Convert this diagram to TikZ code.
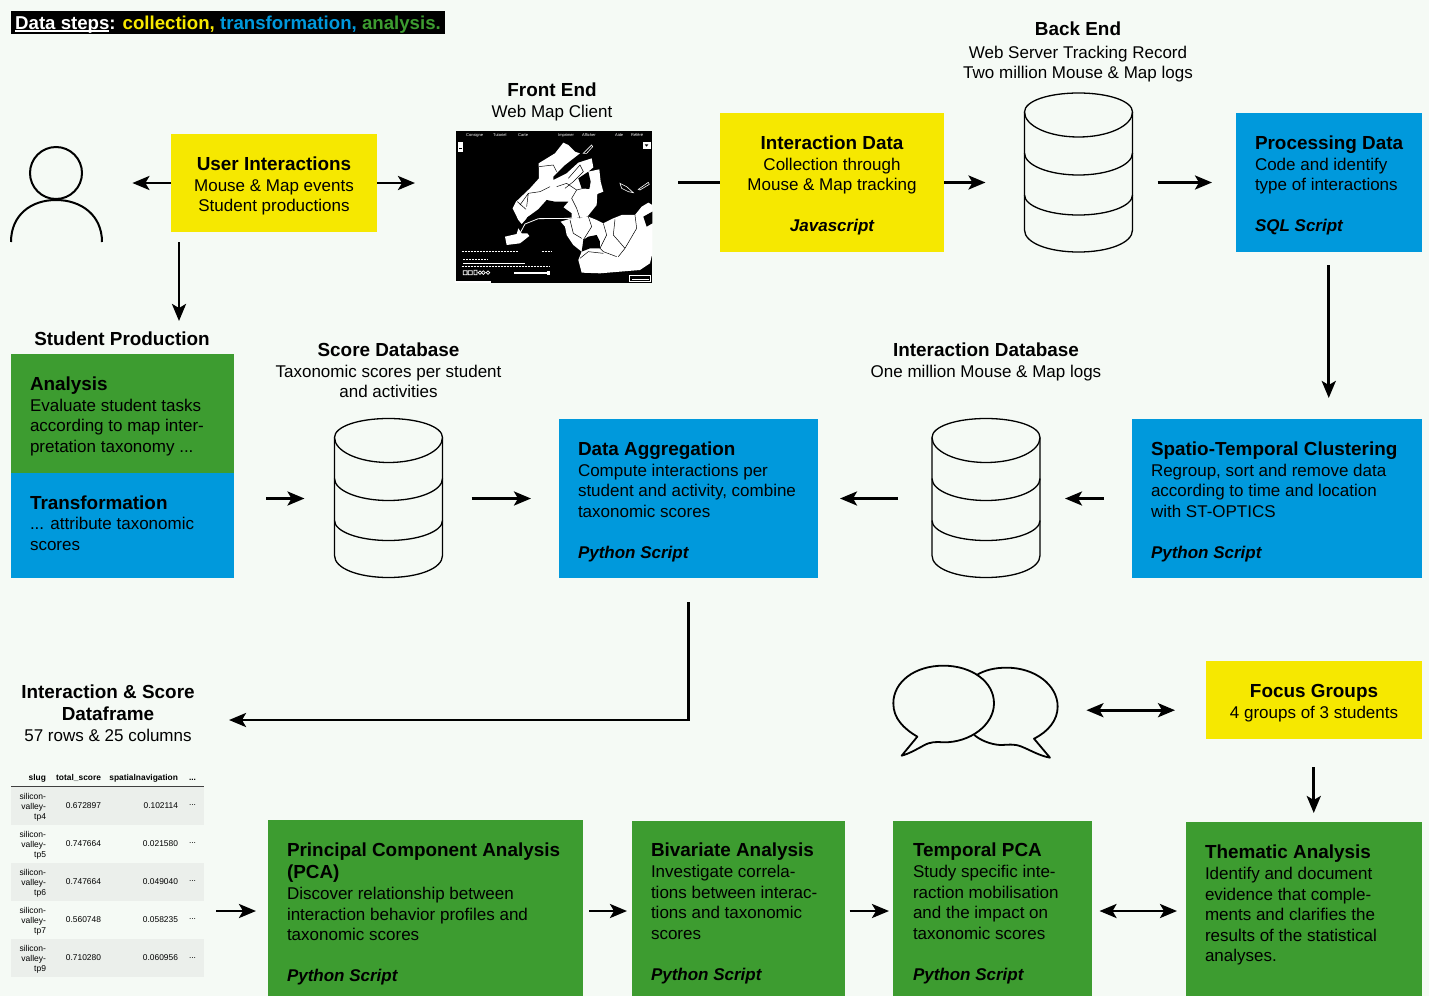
\documentclass[tikz,border=0pt]{standalone}
\usepackage{fontspec}
\setmainfont{Liberation Sans}
\usetikzlibrary{arrows.meta,calc}
\definecolor{bgc}{HTML}{F5FAF5}
\definecolor{yel}{HTML}{F6E800}
\definecolor{blu}{HTML}{0099DC}
\definecolor{gre}{HTML}{3D9C30}
\definecolor{stripe}{HTML}{EBEFEB}
\newcommand\hd[1]{{\fontsize{18.9}{20.5}\selectfont\bfseries\rule{0pt}{15pt}#1}}
\newcommand\scr[1]{{\bfseries\itshape #1}}
\newcommand\mkbox[6]{\node[boxn,fill=#6,minimum width=#4pt-#2pt,minimum height=#5pt-#3pt] (#1) at (#2,#3) {};}
\newcommand\dbshape[3]{%
  \node[dbn] (#1) at (#2,#3) {};
  \draw[dbl,fill=bgc] (#2-54,#3+19) .. controls (#2-54,#3+8) and (#2-30,#3) .. (#2,#3) .. controls (#2+30,#3) and (#2+54,#3+8) .. (#2+54,#3+19)
     -- (#2+54,#3+137) .. controls (#2+54,#3+150) and (#2+30,#3+159) .. (#2,#3+159) .. controls (#2-30,#3+159) and (#2-54,#3+150) .. (#2-54,#3+137) -- cycle;
  \foreach \dy/\dp in {19/25,60/22,102/20}{
  \draw[dbl] (#2-54,#3+\dy) .. controls (#2-54,#3+\dy+0.55*\dp) and (#2-30,#3+\dy+\dp) .. (#2,#3+\dy+\dp) .. controls (#2+30,#3+\dy+\dp) and (#2+54,#3+\dy+0.55*\dp) .. (#2+54,#3+\dy);}
}
\newcommand\trow[5]{%
  \node[tr,text width=36pt,align=right,font=\fontsize{8.5}{10}\selectfont] (r#1a) at (46,#2+1.5) {silicon-\\valley-\\#3};
  \node[tc] (r#1b) at (101,#2) {#4};
  \node[tc] (r#1c) at (178,#2) {#5};
  \node[tc] (r#1d) at (196,#2) {...};
}
\tikzset{
  x=1pt,y=-1pt,
  boxn/.style={anchor=north west,inner sep=0,outer sep=0,draw=none},
  dbn/.style={anchor=north,inner sep=0,outer sep=0,minimum width=108pt,minimum height=160pt,draw=none},
  dbl/.style={line width=1.3pt,draw=black},
  tl/.style={anchor=north west,inner sep=0,outer sep=0,align=left,font=\fontsize{17}{20.5}\selectfont},
  tcn/.style={anchor=north,inner sep=0,outer sep=0,align=center,font=\fontsize{17}{20.5}\selectfont},
  arr/.style={line width=2.8pt,-{Stealth[length=17pt,width=14pt,inset=4pt]}},
  arrb/.style={line width=2.8pt,{Stealth[length=17pt,width=14pt,inset=4pt]}-{Stealth[length=17pt,width=14pt,inset=4pt]}},
  tr/.style={anchor=east,inner sep=0,outer sep=0},
  tc/.style={anchor=east,inner sep=0,outer sep=0,font=\fontsize{8.4}{10}\selectfont},
  th/.style={anchor=base east,inner sep=0,outer sep=0,font=\fontsize{8.4}{10}\selectfont\bfseries},
  mtx/.style={inner sep=0,anchor=west,text=white,font=\fontsize{4}{4}\selectfont},
}
\begin{document}
\begin{tikzpicture}
\fill[bgc] (0,0) rectangle (1429,996);
\useasboundingbox (0,0) rectangle (1429,996);
% title
\mkbox{titlebar}{11}{11}{445}{34}{black}
\node[anchor=base west,inner sep=0,font=\fontsize{18.65}{20}\selectfont\bfseries] (title) at (15,29) {\textcolor{white}{Data steps:} \textcolor{yel}{collection,} \textcolor{blu}{transformation,} \textcolor{gre}{analysis.}};
\coordinate (ula) at (15,31);
\coordinate (ulb) at (109,31);
\draw[white,line width=1.2pt] (ula) -- (ulb);
% person
\node[inner sep=0,anchor=north west,minimum width=91pt,minimum height=95pt] (person) at (11,147) {};
\draw[line width=2pt] (56,173) circle[radius=26];
\draw[line width=2pt] (11,242) .. controls (11,215) and (31,200) .. (56,200) .. controls (81,200) and (102,215) .. (102,242);
% boxes
\mkbox{user}{171}{134}{377}{232}{yel}
\mkbox{idata}{720}{113}{944}{252}{yel}
\mkbox{proc}{1236}{113}{1421.5}{252}{blu}
\mkbox{analysis}{11}{354}{234}{473}{gre}
\mkbox{trans}{11}{473}{234}{578}{blu}
\mkbox{agg}{559}{419}{818}{578}{blu}
\mkbox{spatio}{1132}{419}{1421.5}{578}{blu}
\mkbox{focus}{1206}{661}{1421.5}{739}{yel}
\mkbox{pca}{268}{820}{583}{996}{gre}
\mkbox{biv}{632}{821}{844.5}{996}{gre}
\mkbox{tmp}{893}{821}{1091.5}{996}{gre}
\mkbox{them}{1186}{822}{1421.5}{996}{gre}
% map
\mkbox{map}{456}{131}{652}{283}{black}
\begin{scope}[shift={(440,120)},x=0.3333pt,y=-0.3333pt]
\fill[white] (228,245) -- (270,205) -- (297,175) -- (296,130) -- (345,100) -- (370,68) -- (385,75) -- (405,95) -- (420,100) -- (375,135) -- (340,170) -- (340,180) -- (380,160) -- (415,128) -- (455,115) -- (460,142) -- (445,155) -- (478,148) -- (482,185) -- (490,215) -- (472,222) -- (470,255) -- (442,290) -- (395,295) -- (330,270) -- (295,275) -- (265,290) -- (245,312) -- (235,300) -- (218,265) -- cycle;
\fill[black] (415,175) -- (445,155) -- (452,185) -- (448,207) -- (425,205) -- cycle;
\fill[white] (362,305) -- (395,295) -- (445,290) -- (470,300) -- (490,310) -- (520,295) -- (545,285) -- (585,285) -- (605,260) -- (625,248) -- (637,255) -- (637,400) -- (630,430) -- (600,450) -- (540,455) -- (480,460) -- (425,458) -- (415,420) -- (425,395) -- (400,375) -- (380,345) -- (375,320) -- cycle;
\fill[black] (430,360) -- (445,350) -- (470,345) -- (480,365) -- (480,385) -- (450,385) -- (425,395) -- cycle;
\fill[black] (610,290) -- (637,275) -- (637,310) -- (620,320) -- cycle;
\fill[white] (195,350) -- (230,342) -- (235,325) -- (245,340) -- (262,340) -- (268,348) -- (240,370) -- (200,375) -- cycle;
\fill[black] (320,240) -- (345,245) -- (385,245) -- (370,262) -- (395,280) -- (395,293) -- (340,290) -- (290,297) -- (265,308) -- (245,322) -- (262,292) -- (295,268) -- cycle;
\draw[white,line width=0.8pt] (240,340) -- (255,312) -- (295,296) -- (395,295);
\draw[white,line width=0.6pt] (430,100) -- (455,75) -- (458,80) -- (440,100) -- cycle (540,190) -- (560,200) -- (580,218) -- (565,215) -- (545,205) -- cycle (595,208) -- (625,187) -- (628,193) -- (600,210) -- cycle;
\draw[black,line width=0.5pt] (232,245) -- (258,268) (240,255) -- (265,220) -- (300,215) -- (330,200) (265,220) -- (260,260) (296,140) -- (340,135) -- (350,155) (385,175) -- (420,135) -- (430,155) -- (400,185) -- (375,205) (350,200) -- (380,190) -- (410,210) -- (395,235) -- (410,265) -- (420,295) (410,210) -- (450,200) (390,300) -- (400,340) -- (425,355) (445,290) -- (455,320) -- (430,360) (490,310) -- (500,345) -- (480,385) -- (490,395) -- (530,410) (525,298) -- (520,345) -- (555,385) -- (535,410) (585,285) -- (590,325) -- (555,385) (420,415) -- (445,395) -- (490,400);
\draw[white,line width=0.5pt,dash pattern=on 2pt off 1pt] (65,395) -- (235,395) (305,393) -- (335,393) (70,419) -- (145,419) (65,440) -- (330,440);
\fill[white] (68,428) rectangle (255,433);
\fill[white] (222,457) rectangle (330,462);
\fill[white] (322,454) rectangle (331,465);
\draw[white,line width=0.7pt] (70,452) rectangle (81,464) (85,452) rectangle (97,464) (102,451) rectangle (111,464) (120,458) circle[radius=5.5] (130,458) circle[radius=5.5] (144,458) circle[radius=5.5];
\draw[white,line width=0.8pt] (569,467) rectangle (632,484);
\fill[white] (575,476) rectangle (628,481);
\fill[white] (608,65) rectangle (632,88);
\fill[black] (614,73) -- (625,73) -- (620,80) -- cycle;
\fill[white] (55,67) rectangle (68,95);
\fill[black] (57,83) rectangle (66,85);
\fill[white] (46,483) rectangle (153,489);
\end{scope}
\node[mtx] (m1) at (466,135.5) {Consigne};
\node[mtx] (m2) at (493,135.5) {Tutoriel};
\node[mtx] (m3) at (518,135.5) {Carte};
\node[mtx] (m4) at (558,135.5) {Imprimer};
\node[mtx] (m5) at (582,135.5) {Afficher};
\node[mtx] (m6) at (615,135.5) {Aide};
\node[mtx] (m7) at (631,135.5) {Référé};
% databases
\dbshape{back}{1078.5}{93}
\dbshape{intdb}{986}{418.5}
\dbshape{score}{388.5}{418.5}
% bubbles
\node[inner sep=0,anchor=north west,minimum width=165pt,minimum height=90pt] (bub) at (893,665) {};
\begin{scope}[shift={(880,650)},x=0.3333pt,y=-0.3333pt]
\draw[line width=1.8pt,line join=round] (290,75) .. controls (315,60) and (345,53) .. (380,53) .. controls (465,53) and (533,105) .. (533,170) .. controls (533,210) and (505,245) .. (462,266) -- (510,323) .. controls (480,318) and (450,300) .. (425,290) .. controls (400,280) and (385,285) .. (360,285) .. controls (330,283) and (300,270) .. (283,255);
\draw[line width=1.8pt,line join=round] (112,260) .. controls (70,235) and (40,205) .. (40,160) .. controls (40,95) and (105,47) .. (190,47) .. controls (275,47) and (342,95) .. (342,160) .. controls (342,225) and (270,278) .. (190,277) .. controls (170,275) and (150,275) .. (130,287) .. controls (110,298) and (85,312) .. (65,317) -- cycle;
\end{scope}
% table
\fill[stripe] (11,787) rectangle (204,825);
\fill[stripe] (11,863) rectangle (204,901);
\fill[stripe] (11,939) rectangle (204,977);
\draw[black!75,line width=0.8pt] (11,786) -- (204,786);
\node[inner sep=0,anchor=north west,minimum width=193pt,minimum height=206pt] (table) at (11,771) {};
\node[th] (h1) at (46,780) {slug};
\node[th] (h2) at (101,780) {total\_score};
\node[th] (h3) at (178,780) {spatialnavigation};
\node[th] (h4) at (196,780) {...};
\trow{1}{805.5}{tp4}{0.672897}{0.102114}
\trow{2}{843.5}{tp5}{0.747664}{0.021580}
\trow{3}{881.5}{tp6}{0.747664}{0.049040}
\trow{4}{919.5}{tp7}{0.560748}{0.058235}
\trow{5}{958}{tp9}{0.710280}{0.060956}
% texts
\node[tcn] (tuser) at (274,155) {\hd{User Interactions}\\[0.6pt]Mouse \& Map events\\Student productions};
\node[tcn] (tfront) at (552,81) {\hd{Front End}\\[0.8pt]Web Map Client};
\node[tcn] (tidata) at (832,134) {\hd{Interaction Data}\\[0.8pt]Collection through\\Mouse \& Map tracking\\[20.5pt]\scr{Javascript}};
\node[tcn] (tback) at (1078,20) {\hd{Back End}\\[2.8pt]Web Server Tracking Record\\Two million Mouse \& Map logs};
\node[tl] (tproc) at (1255,134) {\hd{Processing Data}\\[0.8pt]Code and identify\\type of interactions\\[20.5pt]\scr{SQL Script}};
\node[tcn] (tstud) at (122,330.5) {\hd{Student Production}};
\node[tl] (tana) at (30,375) {\hd{Analysis}\\[0.8pt]Evaluate student tasks\\according to map inter-\\pretation taxonomy ...};
\node[tl] (ttrans) at (30,494) {\hd{Transformation}\\[0.4pt]... attribute taxonomic\\scores};
\node[tcn] (tscore) at (388.5,341) {\hd{Score Database}\\[0.8pt]Taxonomic scores per student\\and activities};
\node[tcn] (tintdb) at (986,341) {\hd{Interaction Database}\\[0.8pt]One million Mouse \& Map logs};
\node[tl] (tagg) at (578,440) {\hd{Data Aggregation}\\[0.7pt]Compute interactions per\\student and activity, combine\\taxonomic scores\\[20.5pt]\scr{Python Script}};
\node[tl] (tspatio) at (1151,440) {\hd{Spatio-Temporal Clustering}\\[0.7pt]Regroup, sort and remove data\\according to time and location\\with ST-OPTICS\\[20.5pt]\scr{Python Script}};
\node[tcn] (tdf) at (108,683) {\hd{Interaction \& Score}\\[1.5pt]\hd{Dataframe}\\[0.8pt]57 rows \& 25 columns};
\node[tcn] (tfocus) at (1314,682) {\hd{Focus Groups}\\[0.5pt]4 groups of 3 students};
\node[tl] (tpca) at (287,841) {\hd{Principal Component Analysis}\\[1.5pt]\hd{(PCA)}\\[1pt]Discover relationship between\\interaction behavior profiles and\\taxonomic scores\\[20.5pt]\scr{Python Script}};
\node[tl] (tbiv) at (651,841.5) {\hd{Bivariate Analysis}\\[0.5pt]Investigate correla-\\tions between interac-\\tions and taxonomic\\scores\\[20.5pt]\scr{Python Script}};
\node[tl] (ttmp) at (913,841.5) {\hd{Temporal PCA}\\[0.5pt]Study specific inte-\\raction mobilisation\\and the impact on\\taxonomic scores\\[20.5pt]\scr{Python Script}};
\node[tl] (tthem) at (1205,843.5) {\hd{Thematic Analysis}\\[0.5pt]Identify and document\\evidence that comple-\\ments and clarifies the\\results of the statistical\\analyses.};
% connectors
\coordinate (ua) at (179,242);
\coordinate (ub) at (179,321);
\coordinate (dfend) at (229,720);
\draw[arr,shorten >=30pt] (user.west) -- (user.west -| person.east);
\draw[arr,shorten >=41pt] (user.east) -- (user.east -| map.west);
\draw[arr] (ua) -- (ub);
\draw[line width=2.8pt,shorten <=26pt] (idata.west -| map.east) -- (idata.west);
\draw[arr,shorten >=39pt] (idata.east) -- (idata.east -| back.west);
\draw[arr,shorten <=25pt,shorten >=24pt] (proc.west -| back.east) -- (proc.west);
\draw[arr,shorten <=13pt,shorten >=21pt] (proc.south) -- (proc.south |- spatio.north);
\draw[arr,shorten <=28pt,shorten >=25pt] (spatio.west) -- (spatio.west -| intdb.east);
\draw[arr,shorten <=34pt,shorten >=22pt] (intdb.west) -- (agg.east);
\draw[arr,shorten <=29pt,shorten >=28pt] (score.east) -- (agg.west);
\draw[arr,shorten <=32pt,shorten >=30pt] (score.west -| trans.east) -- (score.west);
\draw[arr,shorten <=24pt] (agg.south) -- (agg.south |- dfend) -- (dfend);
\draw[arrb,shorten <=28pt,shorten >=31pt] (bub.east) -- (bub.east -| focus.west);
\draw[arr,shorten <=28pt,shorten >=9pt] (focus.south) -- (focus.south |- them.north);
\draw[arrb,shorten <=8pt,shorten >=9pt] ([yshift=-2.5pt]tmp.east) -- ([yshift=-2.5pt]tmp.east -| them.west);
\draw[arr,shorten <=12pt,shorten >=12pt] ([yshift=-3pt]pca.west -| table.east) -- ([yshift=-3pt]pca.west);
\draw[arr,shorten <=6pt,shorten >=5pt] ([yshift=-2.5pt]biv.west -| pca.east) -- ([yshift=-2.5pt]biv.west);
\draw[arr,shorten <=5pt,shorten >=4pt] ([yshift=-2.5pt]tmp.west -| biv.east) -- ([yshift=-2.5pt]tmp.west);
\end{tikzpicture}
\end{document}
